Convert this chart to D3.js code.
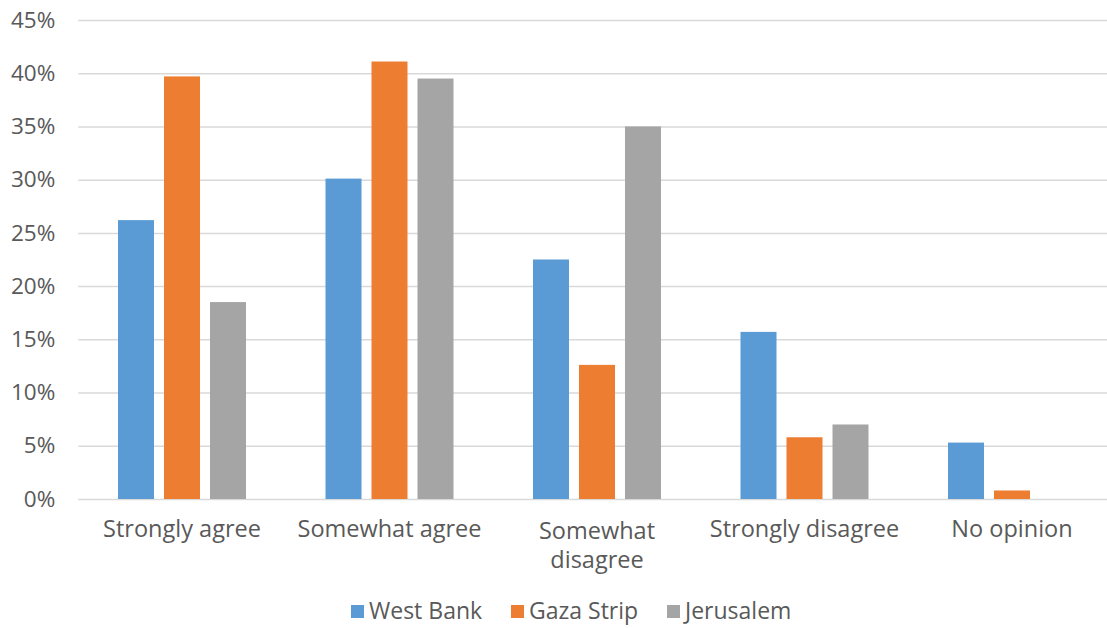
<!DOCTYPE html>
<html>
<head>
<meta charset="utf-8">
<script src="https://cdn.jsdelivr.net/npm/d3@7"></script>
<style>
  html, body { margin: 0; padding: 0; background: #fff; }
  svg { display: block; }
  text { font-family: "Open Sans", Lato, sans-serif; fill: #595959; }
</style>
</head>
<body>
<svg id="chart" width="1107" height="628"></svg>
<script>
const categories = ["Strongly agree", "Somewhat agree", "Somewhat disagree", "Strongly disagree", "No opinion"];
const categoryLabels = [["Strongly agree"], ["Somewhat agree"], ["Somewhat", "disagree"], ["Strongly disagree"], ["No opinion"]];
const seriesNames = ["West Bank", "Gaza Strip", "Jerusalem"];
const westBank = [26.2, 30.1, 22.5, 15.7, 5.3];
const gazaStrip = [39.7, 41.1, 12.6, 5.8, 0.8];
const jerusalem = [18.5, 39.5, 35.0, 7.0, 0];
const yTicks = [0, 5, 10, 15, 20, 25, 30, 35, 40, 45];
const colors = ["#5B9BD5", "#ED7D31", "#A5A5A5"];

const seriesValues = [westBank, gazaStrip, jerusalem];
const svg = d3.select("#chart");
const plot = { left: 78.25, right: 1115.75, top: 20, bottom: 499 };

const x0 = d3.scaleBand().domain(categories).range([plot.left, plot.right]).padding(0);
const bw = x0.bandwidth();
const groupPad = (bw - 128) / 2;
const x1 = d3.scaleBand().domain(seriesNames).range([groupPad, bw - groupPad]).paddingInner(10 / 46).paddingOuter(0);
const y = d3.scaleLinear().domain([0, 45]).range([plot.bottom, plot.top]);

// gridlines
const yAxis = d3.axisLeft(y).tickValues(yTicks).tickSize(-(plot.right - plot.left)).tickFormat(d => d + "%").tickPadding(23);
const gy = svg.append("g").attr("transform", `translate(${plot.left},0)`).call(yAxis);
gy.select(".domain").remove();
gy.selectAll(".tick line").attr("stroke", "#D9D9D9").attr("stroke-width", 1.5);
gy.selectAll(".tick text").style("font-size", "22.5px").style("font-family", "'Open Sans', sans-serif").attr("fill", "#595959");

// bars
const groups = svg.append("g").selectAll("g").data(categories).join("g")
  .attr("transform", d => `translate(${x0(d)},0)`);
groups.selectAll("rect")
  .data((d, i) => seriesNames.map((s, j) => ({ s, v: seriesValues[j][i], c: colors[j] })))
  .join("rect")
  .attr("x", d => x1(d.s))
  .attr("width", x1.bandwidth())
  .attr("y", d => y(d.v))
  .attr("height", d => y(0) - y(d.v))
  .attr("fill", d => d.c);

// category labels
const gx = svg.append("g");
categories.forEach((c, i) => {
  const lines = categoryLabels[i];
  const t = gx.append("text")
    .attr("x", x0(c) + bw / 2)
    .attr("y", lines.length > 1 ? 539 : 537)
    .attr("text-anchor", "middle")
    .style("font-size", "23.5px");
  lines.forEach((line, k) => {
    t.append("tspan").attr("x", x0(c) + bw / 2).attr("dy", k === 0 ? 0 : 29).text(line);
  });
});

// legend
const legendX = [351, 511, 667];
const lg = svg.append("g");
seriesNames.forEach((s, i) => {
  lg.append("rect").attr("x", legendX[i]).attr("y", 605).attr("width", 13).attr("height", 13).attr("fill", colors[i]);
  lg.append("text").attr("x", legendX[i] + 18).attr("y", 619).style("font-size", "23px").text(s);
});
</script>
</body>
</html>
